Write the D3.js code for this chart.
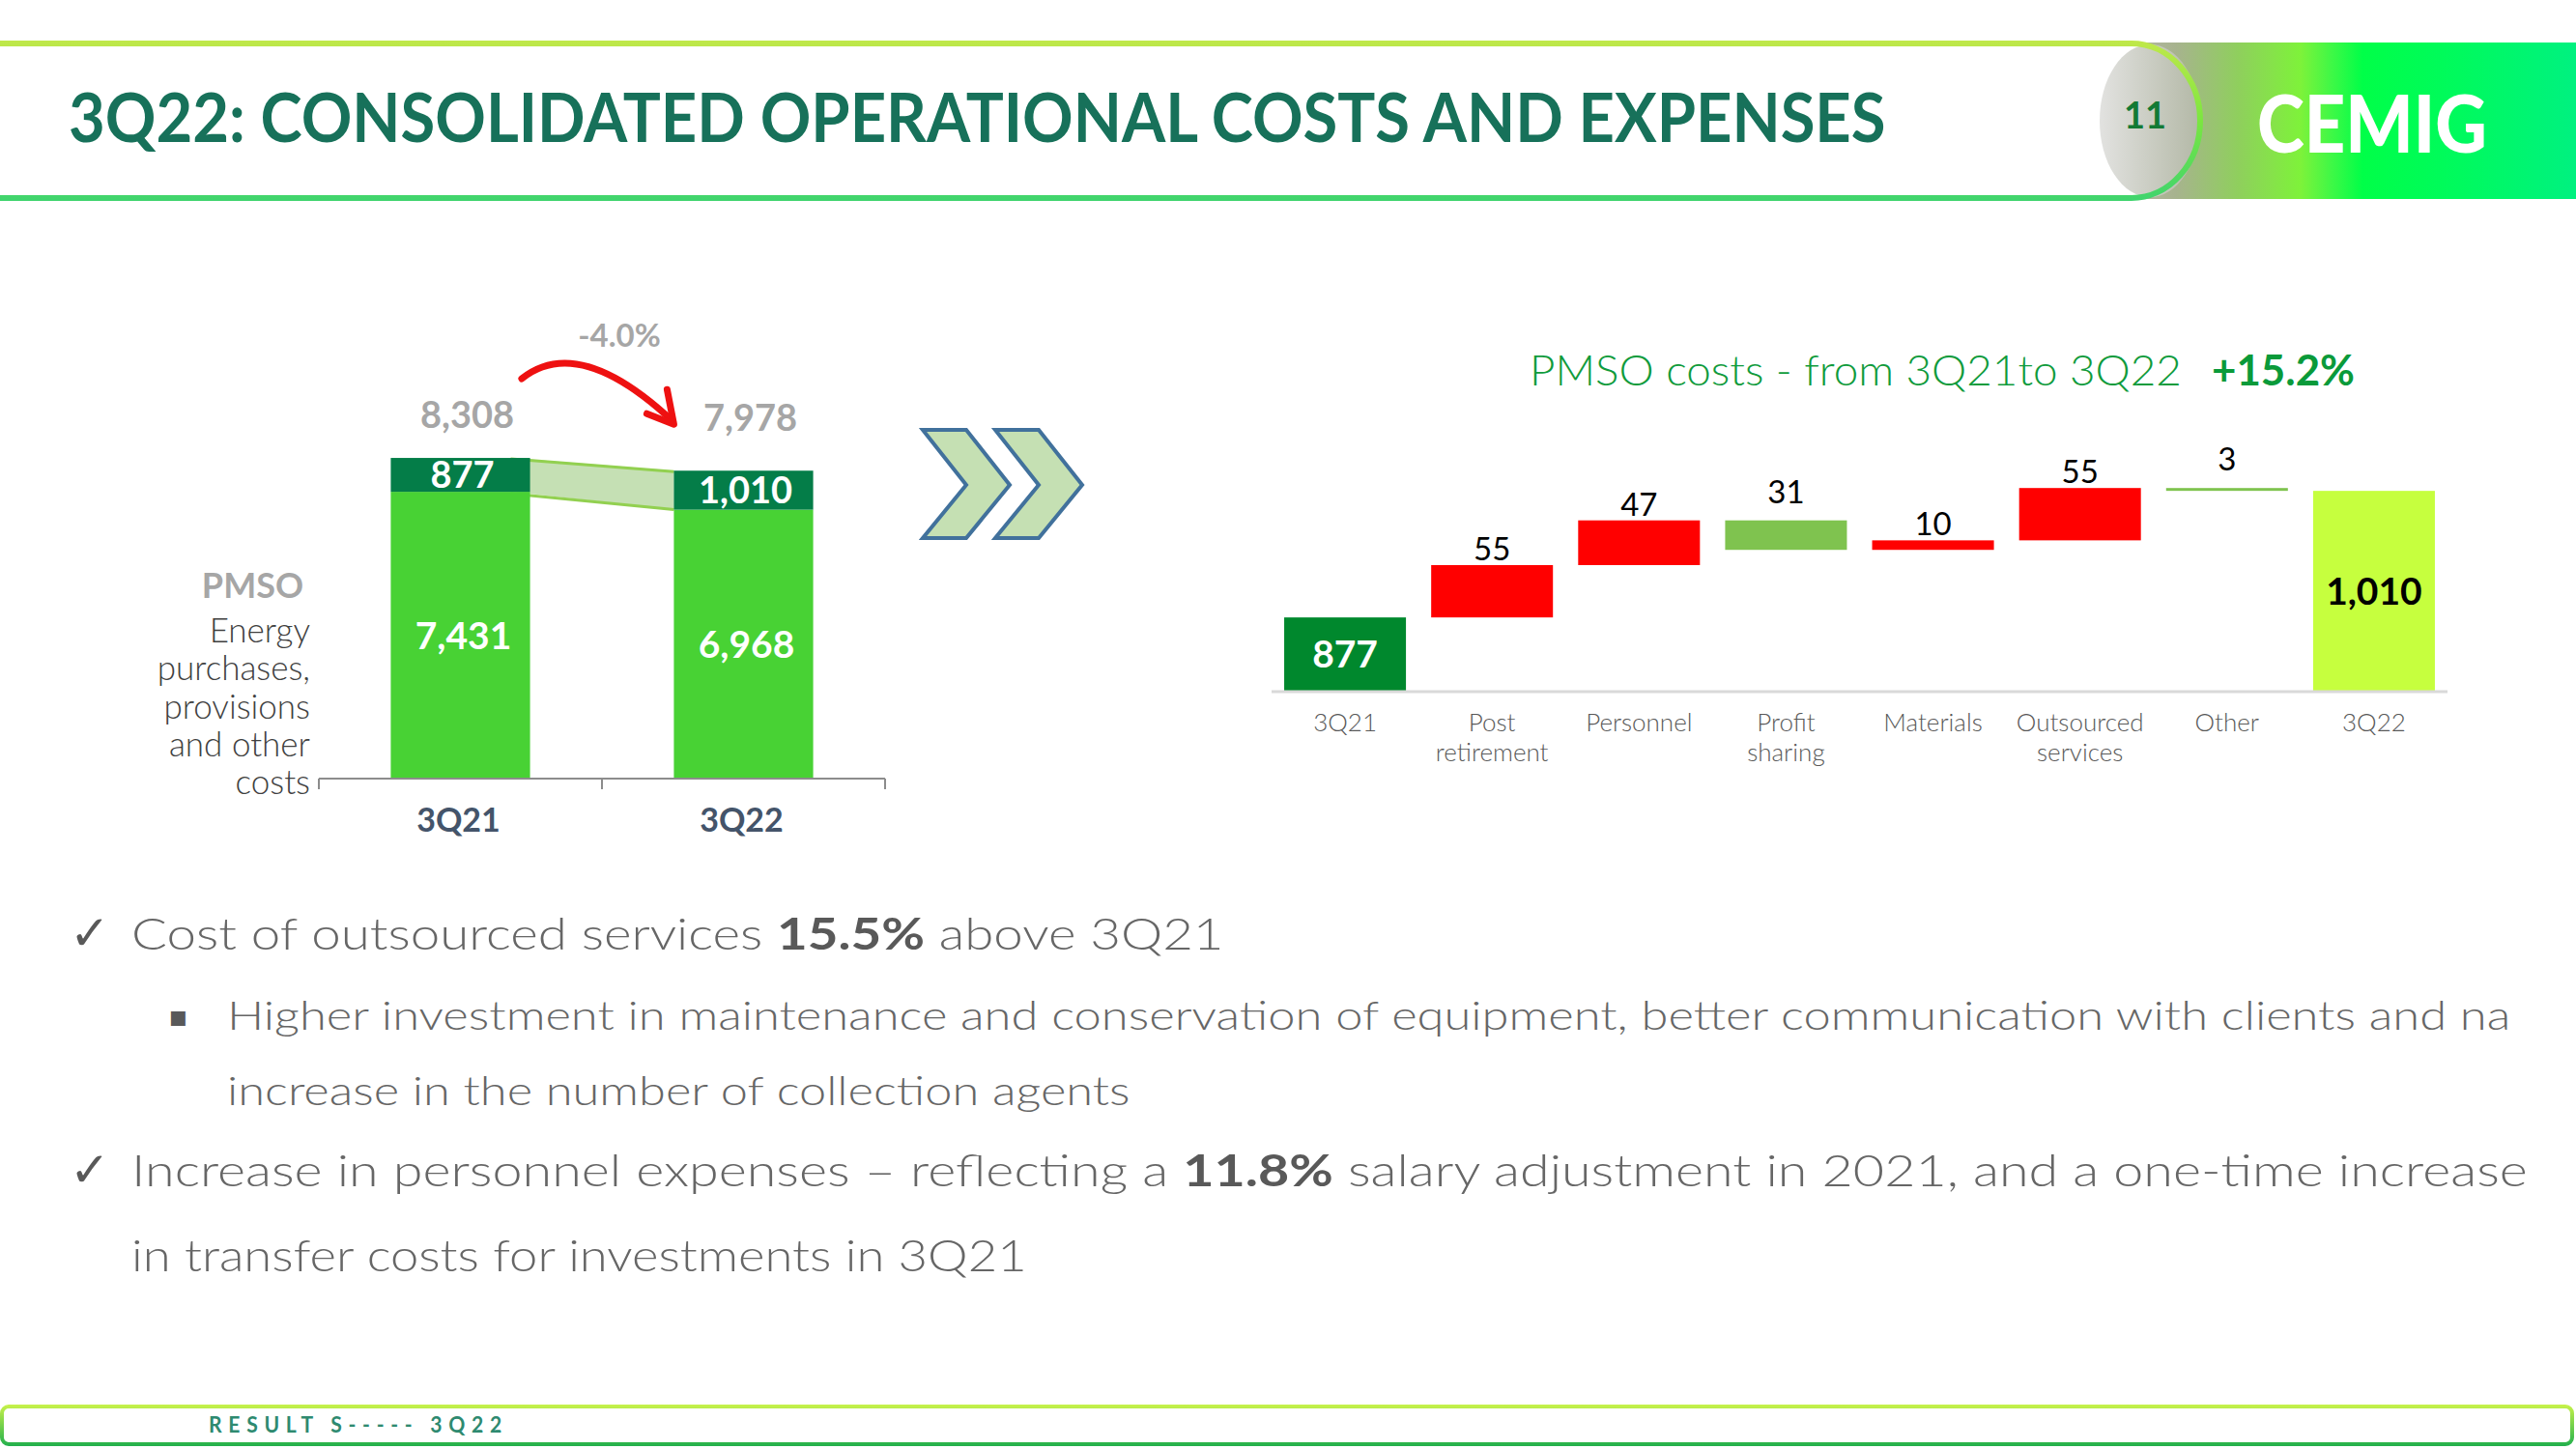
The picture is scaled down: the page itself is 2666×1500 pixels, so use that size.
<!DOCTYPE html>
<html><head><meta charset="utf-8">
<script src="https://cdn.jsdelivr.net/npm/d3@7/dist/d3.min.js"></script>
<style>body{margin:0;background:#fff}svg{display:block}</style>
</head><body>
<svg id="c" width="2666" height="1500"></svg>
<script>
// ---------------- DATA ----------------
const stackCategories = ["3Q21", "3Q22"];
const pmsoValues = [877, 1010];
const otherCostValues = [7431, 6968];
const changeLabel = "-4.0%";

const wfLabels = [["3Q21"], ["Post", "retirement"], ["Personnel"], ["Profit", "sharing"], ["Materials"], ["Outsourced", "services"], ["Other"], ["3Q22"]];
const wfStart = 877;
const wfSteps = [55, 47, -31, 10, 55, -3];
const wfEnd = 1010;
const wfTitle = "PMSO costs - from 3Q21to 3Q22";
const wfChange = "+15.2%";

const slideTitle = "3Q22: CONSOLIDATED OPERATIONAL COSTS AND EXPENSES";
const pageNumber = "11";
const footerText = "RESULT S----- 3Q22";

// ---------------- SETUP ----------------
const svg = d3.select("#c");
const defs = svg.append("defs");
const BODY = "Lato, 'Open Sans', sans-serif";
const fmt = d3.format(",");

function grad(id, stops, x1, y1, x2, y2) {
  const g = defs.append("linearGradient").attr("id", id)
    .attr("gradientUnits", "userSpaceOnUse")
    .attr("x1", x1).attr("y1", y1).attr("x2", x2).attr("y2", y2);
  stops.forEach(s => g.append("stop").attr("offset", s[0]).attr("stop-color", s[1]));
}
function fit(sel, x, target) {
  const w = sel.node().getComputedTextLength();
  if (w > 0) sel.attr("transform", `translate(${x},0) scale(${target / w},1) translate(${-x},0)`);
  return sel;
}

// ---------------- HEADER ----------------
grad("hdrGrad", [[0, "#b4b6a6"], [0.1, "#a7b38e"], [0.24, "#8fcf5d"], [0.38, "#7ef23a"], [0.45, "#3ff846"], [0.52, "#00ff48"], [0.74, "#00fa5e"], [1, "#00f180"]], 2206, 0, 2666, 0);
grad("hdrStroke", [[0, "#c0e84a"], [0.5, "#7be640"], [1, "#3fd46e"]], 0, 42, 0, 208);
grad("ellGrad", [[0, "#e2e2e0"], [1, "#b3b8a6"]], 2173, 0, 2277, 0);
grad("ftrStroke", [[0, "#c8f24a"], [1, "#22b04c"]], 0, 1454, 0, 1497);

svg.append("rect").attr("x", 2206).attr("y", 44).attr("width", 460).attr("height", 162).attr("fill", "url(#hdrGrad)");
svg.append("path").attr("d", "M-10,45 H2206 A71,80 0 0 1 2206,205 H-10 Z").attr("fill", "#fff");
svg.append("ellipse").attr("cx", 2225).attr("cy", 125).attr("rx", 52).attr("ry", 79).attr("fill", "url(#ellGrad)");
svg.append("path").attr("d", "M-10,45 H2206 A71,80 0 0 1 2206,205 H-10").attr("fill", "none")
  .attr("stroke", "url(#hdrStroke)").attr("stroke-width", 6);

fit(svg.append("text").attr("x", 71).attr("y", 147).attr("font-family", BODY).attr("font-weight", 700)
  .attr("font-size", 70).attr("fill", "#17715a").text(slideTitle), 71, 1881);

svg.append("text").attr("x", 2220).attr("y", 133).attr("text-anchor", "middle").attr("font-family", BODY)
  .attr("font-weight", 700).attr("font-size", 38).attr("fill", "#137a35").text(pageNumber);

fit(svg.append("text").attr("x", 2336).attr("y", 158).attr("font-family", BODY).attr("font-weight", 900)
  .attr("font-size", 82).attr("fill", "#fff").text("CEMIG"), 2336, 238);

// ---------------- LEFT STACKED CHART ----------------
const xL = d3.scaleBand().domain(stackCategories).range([330, 916]).paddingInner(0.508).paddingOuter(0.254);
const yL = d3.scaleLinear().domain([0, 9000]).range([806, 446.4]);
const stackData = stackCategories.map((c, i) => ({ c, other: otherCostValues[i], pmso: pmsoValues[i], total: otherCostValues[i] + pmsoValues[i] }));
const bw = xL.bandwidth();

// connector band between PMSO segments
const a = stackData[0], b = stackData[1];
const ax = xL(a.c) + bw, bx = xL(b.c);
svg.append("path")
  .attr("d", `M${ax - 20},${yL(a.total)} L${bx},${yL(b.total)} L${bx},${yL(b.other)} L${ax - 20},${yL(a.other)} Z`)
  .attr("fill", "#c5e0b4");
["total", "other"].forEach(k => {
  svg.append("line").attr("x1", ax - 20).attr("y1", yL(a[k]) + (k === "other" ? 2 : 1))
    .attr("x2", bx).attr("y2", yL(b[k]) + (k === "other" ? 0 : 1))
    .attr("stroke", "#92d050").attr("stroke-width", 3);
});

const gL = svg.append("g");
gL.selectAll("rect.other").data(stackData).join("rect").attr("class", "other")
  .attr("x", d => xL(d.c)).attr("width", bw)
  .attr("y", d => yL(d.other)).attr("height", d => yL(0) - yL(d.other)).attr("fill", "#48d234");
gL.selectAll("rect.pmso").data(stackData).join("rect").attr("class", "pmso")
  .attr("x", d => xL(d.c)).attr("width", bw)
  .attr("y", d => yL(d.total)).attr("height", d => yL(d.other) - yL(d.total)).attr("fill", "#047d48");

gL.selectAll("text.pv").data(stackData).join("text").attr("class", "pv")
  .attr("x", d => xL(d.c) + bw / 2 + 2).attr("y", d => (yL(d.other) + yL(d.total)) / 2 + 13.5)
  .attr("text-anchor", "middle").attr("font-family", BODY).attr("font-weight", 700).attr("font-size", 38)
  .attr("fill", "#fff").text(d => fmt(d.pmso));
gL.selectAll("text.ov").data(stackData).join("text").attr("class", "ov")
  .attr("x", d => xL(d.c) + bw / 2 + 3).attr("y", d => (yL(d.other) + yL(0)) / 2 + 14)
  .attr("text-anchor", "middle").attr("font-family", BODY).attr("font-weight", 700).attr("font-size", 39)
  .attr("fill", "#fff").text(d => fmt(d.other));
const totBase = yL(d3.max(stackData, d => d.total)) - 31;
gL.selectAll("text.tv").data(stackData).join("text").attr("class", "tv")
  .attr("x", d => xL(d.c) + bw / 2 + 7).attr("y", (d, i) => totBase + i * 3)
  .attr("text-anchor", "middle").attr("font-family", BODY).attr("font-weight", 700).attr("font-size", 38)
  .attr("fill", "#a6a6a6").text(d => fmt(d.total));

// axis
const axY = yL(0);
const r = xL.range();
svg.append("line").attr("x1", r[0]).attr("x2", r[1]).attr("y1", axY).attr("y2", axY).attr("stroke", "#8c8c8c").attr("stroke-width", 2);
d3.range(stackCategories.length + 1).forEach(i => {
  const tx = r[0] + i * xL.step();
  svg.append("line").attr("x1", tx).attr("x2", tx).attr("y1", axY).attr("y2", axY + 11).attr("stroke", "#8c8c8c").attr("stroke-width", 2);
});
svg.selectAll("text.xl").data(stackCategories).join("text").attr("class", "xl")
  .attr("x", d => xL(d) + bw / 2 - 2).attr("y", axY + 55).attr("text-anchor", "middle")
  .attr("font-family", BODY).attr("font-weight", 700).attr("font-size", 34).attr("fill", "#44546a").text(d => d);

// change arrow
const sx = xL(a.c) + bw * 0.94, sy = yL(a.total) - 82;
const ex = xL(b.c) - 1, ey = yL(b.total) - 51;
svg.append("path").attr("d", `M${sx},${sy} Q${sx + 59},${sy - 47} ${ex},${ey}`)
  .attr("fill", "none").attr("stroke", "#ee1111").attr("stroke-width", 7).attr("stroke-linecap", "round");
svg.append("path").attr("d", `M${ex - 6},${ey - 33} L${ex + 1},${ey + 3} L${ex - 27},${ey - 8}`)
  .attr("fill", "none").attr("stroke", "#ee1111").attr("stroke-width", 7).attr("stroke-linecap", "round").attr("stroke-linejoin", "round");
svg.append("text").attr("x", (xL(a.c) + xL(b.c) + bw) / 2 + 18).attr("y", 359).attr("text-anchor", "middle")
  .attr("font-family", BODY).attr("font-weight", 700).attr("font-size", 33).attr("fill", "#a6a6a6").text(changeLabel);

// side labels
svg.append("text").attr("x", 314).attr("y", 619).attr("text-anchor", "end").attr("font-family", BODY)
  .attr("font-weight", 700).attr("font-size", 36).attr("fill", "#a6a6a6").text("PMSO");
["Energy", "purchases,", "provisions", "and other", "costs"].forEach((t, i) => {
  svg.append("text").attr("x", 321).attr("y", 665 + i * 39.3).attr("text-anchor", "end").attr("font-family", BODY)
    .attr("font-weight", 300).attr("font-size", 35).attr("fill", "#404040").text(t);
});

// chevrons
[0, 75].forEach(dx => {
  const p = [[955, 445], [1000, 445], [1045, 502], [1000, 557], [955, 557], [1000, 502]].map(q => [q[0] + dx, q[1]]);
  svg.append("polygon").attr("points", p.map(q => q.join(",")).join(" "))
    .attr("fill", "#c5e0b3").attr("stroke", "#41719c").attr("stroke-width", 4);
});

// ---------------- WATERFALL ----------------
const wfKeys = wfLabels.map(l => l.join(" "));
const xW = d3.scaleBand().domain(wfKeys).range([1316, 2533]).paddingInner(0.1716).paddingOuter(0.0858);
const yW = d3.scaleLinear().domain([800, 1100]).range([715, 419.5]);
const wbw = xW.bandwidth();
let run = wfStart;
const wfBars = [{ k: wfKeys[0], lo: 800, hi: wfStart, type: "start", v: wfStart }];
wfSteps.forEach((s, i) => {
  const lo = Math.min(run, run + s), hi = Math.max(run, run + s);
  wfBars.push({ k: wfKeys[i + 1], lo, hi, type: s >= 0 ? "up" : "down", v: Math.abs(s) });
  run += s;
});
wfBars.push({ k: wfKeys[wfKeys.length - 1], lo: 800, hi: wfEnd, type: "end", v: wfEnd });
const wfColor = { start: "#00882d", up: "#ff0000", down: "#7fc34f", end: "#c6ff3e" };

svg.selectAll("rect.wf").data(wfBars).join("rect").attr("class", "wf")
  .attr("x", d => xW(d.k)).attr("width", wbw)
  .attr("y", d => yW(d.hi)).attr("height", d => yW(d.lo) - yW(d.hi)).attr("fill", d => wfColor[d.type]);

svg.append("line").attr("x1", 1316).attr("x2", 2533).attr("y1", 716).attr("y2", 716).attr("stroke", "#d9d9d9").attr("stroke-width", 3);

svg.selectAll("text.wfv").data(wfBars.filter(d => d.type === "up" || d.type === "down")).join("text").attr("class", "wfv")
  .attr("x", d => xW(d.k) + wbw / 2).attr("y", d => yW(d.hi) - (d.type === "down" ? 18 : 5))
  .attr("text-anchor", "middle").attr("font-family", BODY).attr("font-size", 33).attr("fill", "#000").text(d => d.v);
svg.selectAll("text.wfe").data(wfBars.filter(d => d.type === "start" || d.type === "end")).join("text").attr("class", "wfe")
  .attr("x", d => xW(d.k) + wbw / 2).attr("y", d => (yW(d.lo) + yW(d.hi)) / 2 + 14)
  .attr("text-anchor", "middle").attr("font-family", BODY).attr("font-weight", 700).attr("font-size", 39)
  .attr("fill", d => d.type === "start" ? "#fff" : "#000").text(d => fmt(d.v));

wfLabels.forEach((lines, i) => {
  lines.forEach((t, j) => {
    svg.append("text").attr("x", xW(wfKeys[i]) + wbw / 2).attr("y", 757 + j * 31).attr("text-anchor", "middle")
      .attr("font-family", BODY).attr("font-weight", 300).attr("font-size", 26).attr("fill", "#595959").text(t);
  });
});

fit(svg.append("text").attr("x", 1583).attr("y", 399).attr("font-family", BODY).attr("font-weight", 300).attr("font-size", 43)
  .attr("fill", "#109b3c").text(wfTitle), 1583, 675);
fit(svg.append("text").attr("x", 2289).attr("y", 399).attr("font-family", BODY).attr("font-weight", 700).attr("font-size", 43)
  .attr("fill", "#0a9a3a").text(wfChange), 2289, 148);

// ---------------- BODY TEXT ----------------
const bodyLines = [
  { m: "✓", mx: 72, x: 136, y: 983, w: 1131, fs: 46, parts: [["Cost of outsourced services ", 0], ["15.5%", 1], [" above 3Q21", 0]] },
  { m: "▪", mx: 174, x: 235, y: 1066, w: 2364, fs: 42, parts: [["Higher investment in maintenance and conservation of equipment, better communication with clients and na", 0]] },
  { m: "", mx: 0, x: 235, y: 1144, w: 935, fs: 42, parts: [["increase in the number of collection agents", 0]] },
  { m: "✓", mx: 72, x: 136, y: 1228, w: 2480, fs: 46, parts: [["Increase in personnel expenses – reflecting a ", 0], ["11.8%", 1], [" salary adjustment in 2021, and a one-time increase", 0]] },
  { m: "", mx: 0, x: 136, y: 1316, w: 927, fs: 46, parts: [["in transfer costs for investments in 3Q21", 0]] }
];
bodyLines.forEach(L => {
  if (L.m) svg.append("text").attr("x", L.mx).attr("y", L.y - (L.m === "▪" ? 4 : 0)).attr("font-family", "DejaVu Sans")
    .attr("font-size", L.m === "▪" ? 30 : 50).attr("fill", "#595959").text(L.m);
  const t = svg.append("text").attr("x", L.x).attr("y", L.y).attr("font-family", BODY).attr("font-size", L.fs).attr("fill", "#6a6a6a");
  L.parts.forEach(p => t.append("tspan").attr("font-weight", p[1] ? 700 : 300).attr("fill", p[1] ? "#595959" : "#666666").text(p[0]));
  fit(t, L.x, L.w);
});

// ---------------- FOOTER ----------------
svg.append("rect").attr("x", 2).attr("y", 1456).attr("width", 2660).attr("height", 39).attr("rx", 7)
  .attr("fill", "#fff").attr("stroke", "url(#ftrStroke)").attr("stroke-width", 4);
fit(svg.append("text").attr("x", 216).attr("y", 1483).attr("font-family", BODY).attr("font-weight", 700)
  .attr("font-size", 22).attr("letter-spacing", 7).attr("fill", "#2e8a70").text(footerText), 216, 310);
</script>
</body></html>
